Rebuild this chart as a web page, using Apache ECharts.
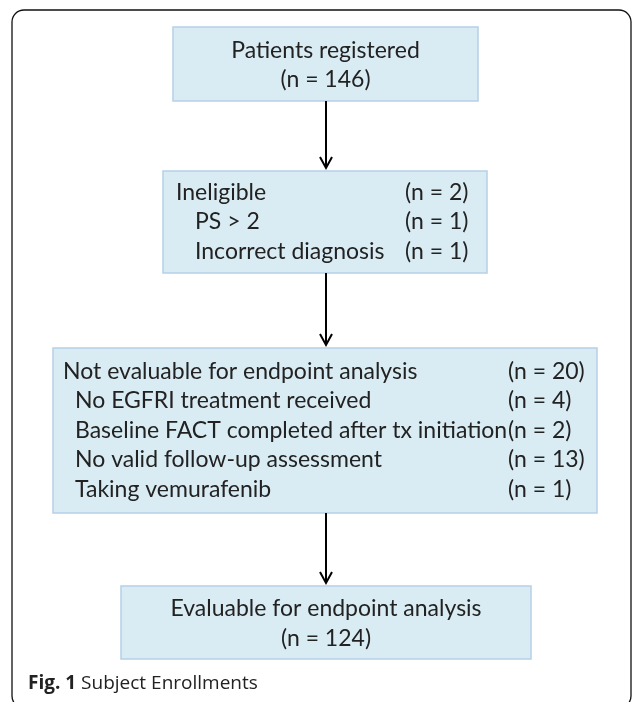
<!DOCTYPE html>
<html>
<head>
<meta charset="utf-8">
<script src="https://cdn.jsdelivr.net/npm/echarts@6/dist/echarts.min.js"></script>
<style>
  html, body { margin: 0; padding: 0; background: #fff; }
  #chart { width: 633px; height: 702px; }
</style>
</head>
<body>
<div id="chart"></div>
<script>
// flow stages and their counts
const stageLabels = [
  'Patients registered',
  'Ineligible',
  'Not evaluable for endpoint analysis',
  'Evaluable for endpoint analysis'
]
const stageCounts = [146, 2, 20, 124]

const ineligibleReasons = ['PS > 2', 'Incorrect diagnosis']
const ineligibleCounts = [1, 1]

const notEvaluableReasons = [
  'No EGFRI treatment received',
  'Baseline FACT completed after tx initiation',
  'No valid follow-up assessment',
  'Taking vemurafenib'
]
const notEvaluableCounts = [4, 2, 13, 1]

const captionBold = 'Fig. 1'
const captionText = 'Subject Enrollments'

// layout of the boxes (pixels)
const boxes = [
  { x: 173, y: 27, w: 305, h: 74 },
  { x: 163, y: 171, w: 324, h: 102 },
  { x: 53, y: 348, w: 544, h: 165 },
  { x: 121, y: 586, w: 410, h: 73 }
]
const arrowX = 326
const font = 'Lato, "Open Sans", sans-serif'
const fontSize = 23
const lineGap = 29.5
const boxFill = '#daecf3'
const boxStroke = '#b6cfe8'
const textColor = '#222'

const chart = echarts.init(document.getElementById('chart'))

const elements = []

// outer frame (bottom edge falls just outside the picture)
elements.push({
  type: 'rect',
  shape: { x: 12, y: 10, width: 619, height: 698, r: 12 },
  style: { fill: 'none', stroke: '#111', lineWidth: 1.3 }
})

boxes.forEach(function (b) {
  elements.push({
    type: 'rect',
    shape: { x: b.x, y: b.y, width: b.w, height: b.h },
    style: { fill: boxFill, stroke: boxStroke, lineWidth: 1.5 }
  })
})

function txt(x, y, text, align) {
  elements.push({
    type: 'text',
    x: x,
    y: y,
    style: {
      text: text,
      fill: textColor,
      font: fontSize + 'px ' + font,
      align: align || 'left',
      verticalAlign: 'middle'
    }
  })
}

// centered boxes
function centered(i) {
  const b = boxes[i]
  const cx = b.x + b.w / 2
  const cy = b.y + b.h / 2 + 1
  txt(cx, cy - lineGap / 2, stageLabels[i], 'center')
  txt(cx, cy + lineGap / 2, '(n = ' + stageCounts[i] + ')', 'center')
}
centered(0)
centered(3)

// list boxes
function listBox(i, reasons, counts, labelX, subX, countX) {
  const b = boxes[i]
  const n = reasons.length + 1
  const y0 = b.y + b.h / 2 - (n - 1) * lineGap / 2
  txt(labelX, y0, stageLabels[i])
  txt(countX, y0, '(n = ' + stageCounts[i] + ')')
  reasons.forEach(function (r, k) {
    txt(subX, y0 + (k + 1) * lineGap, r)
    txt(countX, y0 + (k + 1) * lineGap, '(n = ' + counts[k] + ')')
  })
}
listBox(1, ineligibleReasons, ineligibleCounts, 176, 195, 405)
listBox(2, notEvaluableReasons, notEvaluableCounts, 63, 75, 508)

// arrows between boxes
function arrow(y1, y2) {
  elements.push({
    type: 'line',
    shape: { x1: arrowX, y1: y1, x2: arrowX, y2: y2 - 1 },
    style: { stroke: '#000', lineWidth: 2 }
  })
  elements.push({
    type: 'polyline',
    shape: { points: [[arrowX - 6, y2 - 12], [arrowX, y2 - 1], [arrowX + 6, y2 - 12]] },
    style: { stroke: '#000', lineWidth: 2, fill: 'none' }
  })
}
for (let i = 0; i < boxes.length - 1; i++) {
  arrow(boxes[i].y + boxes[i].h, boxes[i + 1].y - 2)
}

// caption
elements.push({
  type: 'text',
  x: 28,
  y: 684,
  style: {
    text: '{b|' + captionBold + '} ' + captionText,
    fill: '#222',
    font: '19px "Open Sans", sans-serif',
    verticalAlign: 'middle',
    rich: {
      b: { fontWeight: 'bold', fontSize: 19, fontFamily: '"Open Sans", sans-serif', fill: '#222' }
    }
  }
})

chart.setOption({
  animation: false,
  graphic: { elements: elements }
})
</script>
</body>
</html>
